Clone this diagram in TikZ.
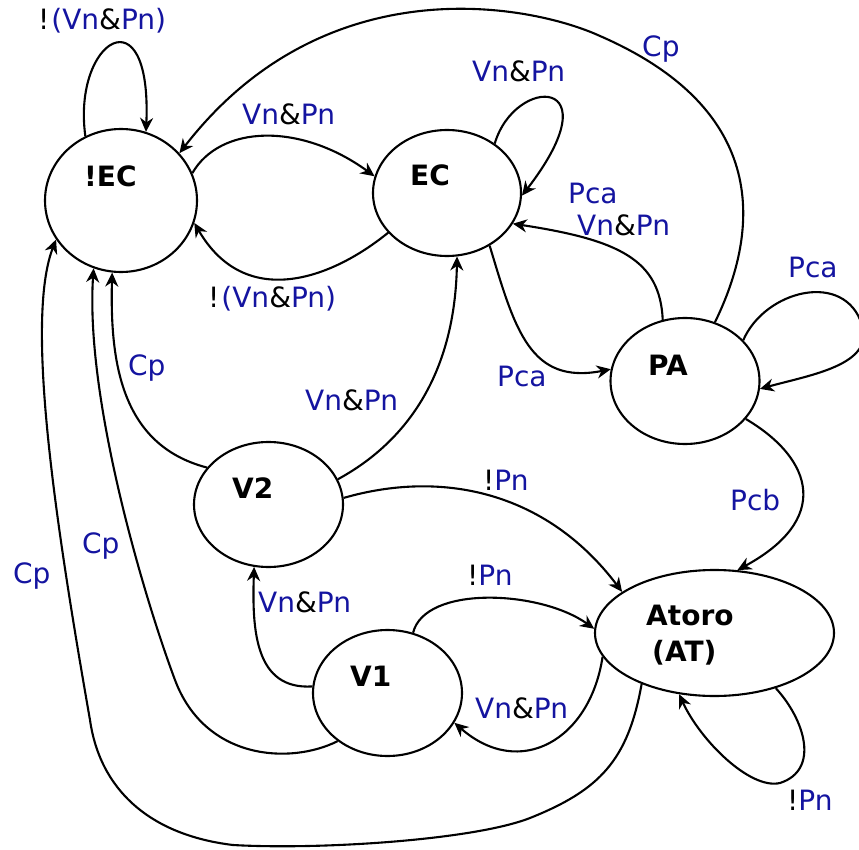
\documentclass[tikz,border=0pt]{standalone}
\usepackage{fontspec}
\setmainfont{DejaVu Sans}
\usetikzlibrary{shapes.geometric,arrows.meta}
\definecolor{condblue}{RGB}{20,20,160}
% operators inside the conditions are printed in black
\newcommand{\opnot}{{\color{black}!}}
\newcommand{\opand}{{\color{black}\&}}

\begin{document}
\begin{tikzpicture}[x=1pt,y=-1pt,
  state/.style={draw, ellipse, line width=2.1pt, inner sep=0pt},
  statename/.style={font=\fontsize{28}{34}\selectfont\bfseries, anchor=base west, inner sep=0pt},
  cond/.style={font=\fontsize{28}{34}\selectfont, text=condblue, anchor=base west, inner sep=0pt},
  trans/.style={line width=2.1pt, -{Stealth[length=14pt,width=13pt,inset=4.5pt]}}]
\useasboundingbox (0,0) rectangle (859,850);

% states
\node[state, minimum width=152pt, minimum height=143pt] (nEC) at (121,200.5) {};
\node[state, minimum width=148pt, minimum height=126pt] (EC)  at (447,193) {};
\node[state, minimum width=149pt, minimum height=126pt] (PA)  at (685,381) {};
\node[state, minimum width=149pt, minimum height=125pt] (V2)  at (268.5,504.5) {};
\node[state, minimum width=149pt, minimum height=126pt] (V1)  at (387.5,693) {};
\node[state, minimum width=239pt, minimum height=126pt] (AT)  at (714.5,633) {};

% state names
\node[statename] (tnEC) at (84,187) {!EC};
\node[statename] (tEC)  at (410,186) {EC};
\node[statename] (tPA)  at (648,375) {PA};
\node[statename] (tV2)  at (232,498) {V2};
\node[statename] (tV1)  at (350,686) {V1};
\node[statename] (tAT1) at (646,625) {Atoro};
\node[statename] (tAT2) at (652,661) {(AT)};

% transitions
\draw[trans] (nEC.119) .. controls (72,40) and (152,-10) .. (nEC.70);
\draw[trans] (nEC.21) .. controls (220,125) and (300,122) .. (EC.167.5);
\draw[trans] (EC.214) .. controls (330,280) and (245,310) .. (nEC.343);
\draw[trans] (EC.46) .. controls (515,75) and (615,75) .. (EC.358.5);
\draw[trans] (PA.63) .. controls (760,230) and (770,110) .. (600,36)
             .. controls (530,4) and (325,-35) .. (nEC.39.4);
\draw[trans] (PA.110.7) .. controls (660,260) and (620,240) .. (EC.335);
\draw[trans] (EC.309.6) .. controls (515,330) and (530,385) .. (PA.171.4);
\draw[trans] (PA.35.7) .. controls (765,290) and (845,270) .. (862,325)
             .. controls (875,365) and (810,375) .. (PA.354.5);
\draw[trans] (PA.328) .. controls (815,460) and (830,520) .. (AT.70.4);
\draw[trans] (V2.20.9) .. controls (410,440) and (455,370) .. (EC.279.6);
\draw[trans] (V2.149.3) .. controls (120,445) and (110,360) .. (nEC.263.6);
\draw[trans] (V2.5.6) .. controls (440,470) and (545,490) .. (AT.156.3);
\draw[trans] (V1.67) .. controls (425,585) and (540,590) .. (AT.178.6);
\draw[trans] (V1.175.4) .. controls (255,690) and (252,630) .. (V2.257.8);
\draw[trans] (AT.192.6) .. controls (590,740) and (520,780) .. (V1.336.7);
\draw[trans] (AT.318.3) .. controls (805,720) and (820,770) .. (780,783)
             .. controls (750,790) and (700,740) .. (AT.240.1);
\draw[trans] (AT.215) .. controls (628,760) and (600,790) .. (530,818)
             .. controls (474,840) and (320,850) .. (233,845)
             .. controls (150,835) and (100,790) .. (90,720)
             .. controls (55,520) and (25,320) .. (nEC.211.7);
\draw[trans] (V1.224.7) .. controls (290,765) and (205,760) .. (175,680)
             .. controls (145,600) and (85,400) .. (nEC.248.6);

% transition conditions
\node[cond] (c01) at (38,30)   {\opnot\kern2pt(Vn\opand Pn)};
\node[cond] (c02) at (242,125) {Vn\opand Pn};
\node[cond] (c03) at (208,307) {\opnot\kern2pt(Vn\opand Pn)};
\node[cond] (c04) at (472,82)  {Vn\opand Pn};
\node[cond] (c05) at (642,57)  {Cp};
\node[cond] (c06) at (568,204) {Pca};
\node[cond] (c07) at (577,236) {Vn\opand Pn};
\node[cond] (c08) at (497,386) {Pca};
\node[cond] (c09) at (788,278) {Pca};
\node[cond] (c10) at (730,510) {Pcb};
\node[cond] (c11) at (305,410) {Vn\opand Pn};
\node[cond] (c12) at (128,375) {Cp};
\node[cond] (c13) at (483,490) {\opnot Pn};
\node[cond] (c14) at (467,585) {\opnot Pn};
\node[cond] (c15) at (258,612) {Vn\opand Pn};
\node[cond] (c16) at (475,718) {Vn\opand Pn};
\node[cond] (c17) at (787,810) {\opnot Pn};
\node[cond] (c18) at (13,583)  {Cp};
\node[cond] (c19) at (82,553)  {Cp};
\end{tikzpicture}
\end{document}
